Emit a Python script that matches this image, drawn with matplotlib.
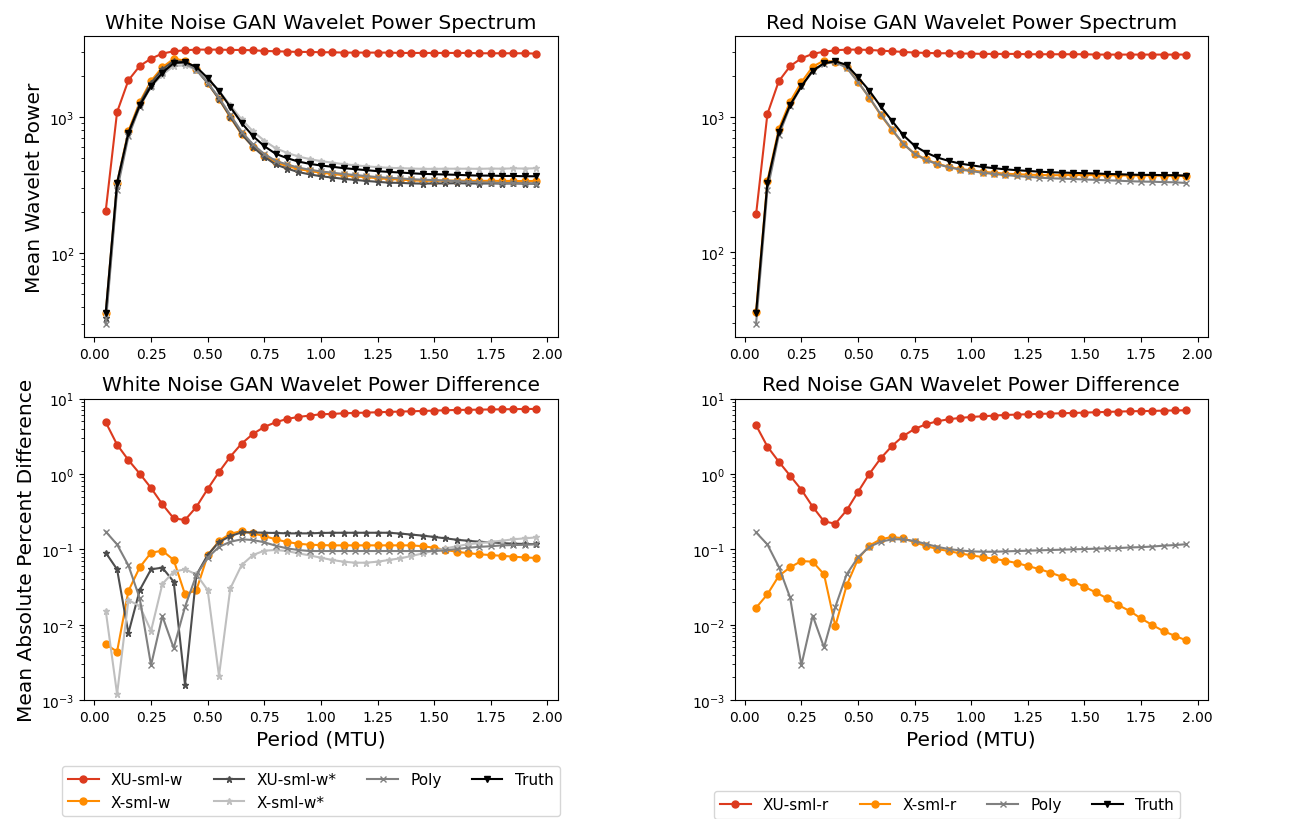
import matplotlib
matplotlib.use("Agg")
import matplotlib.pyplot as plt

period = [0.05, 0.10, 0.15, 0.20, 0.25, 0.30, 0.35, 0.40, 0.45, 0.50,
          0.55, 0.60, 0.65, 0.70, 0.75, 0.80, 0.85, 0.90, 0.95, 1.00,
          1.05, 1.10, 1.15, 1.20, 1.25, 1.30, 1.35, 1.40, 1.45, 1.50,
          1.55, 1.60, 1.65, 1.70, 1.75, 1.80, 1.85, 1.90, 1.95]

# mean wavelet power, white noise run
w_xu = [205, 1088, 1864, 2375, 2692, 2931, 3048, 3100, 3135, 3135,
        3135, 3117, 3117, 3100, 3064, 3048, 3031, 3014, 3014, 2997,
        2997, 2980, 2980, 2980, 2980, 2980, 2963, 2963, 2963, 2963,
        2963, 2963, 2963, 2946, 2946, 2946, 2946, 2946, 2930]
w_x = [36.3, 329, 788, 1290, 1844, 2325, 2680, 2605, 2270, 1777,
       1355, 995, 746, 607, 519, 464, 437, 415, 401, 390,
       382, 373, 367, 361, 355, 350, 347, 342, 340, 340,
       341, 341, 340, 339, 340, 339, 339, 338, 339]
w_xu_s = [33.2, 310, 761, 1254, 1784, 2242, 2592, 2537, 2230, 1775,
          1362, 1008, 752, 603, 510, 448, 418, 394, 379, 367,
          359, 351, 345, 339, 334, 329, 328, 325, 324, 325,
          325, 326, 325, 324, 325, 324, 325, 324, 324]
w_x_s = [36.0, 328, 751, 1197, 1678, 2047, 2373, 2403, 2228, 1882,
         1559, 1222, 960, 786, 670, 590, 546, 513, 491, 474,
         462, 450, 442, 434, 428, 423, 421, 418, 416, 416,
         417, 417, 417, 416, 418, 417, 419, 418, 420]
w_poly = [30.2, 290, 720, 1192, 1687, 2093, 2488, 2498, 2230, 1787,
          1388, 1037, 781, 629, 535, 477, 448, 425, 410, 398,
          390, 381, 375, 368, 362, 357, 354, 349, 346, 344,
          341, 338, 334, 331, 330, 327, 327, 325, 324]
w_truth = [36.5, 328, 767, 1219, 1692, 2121, 2500, 2541, 2337, 1938,
           1556, 1186, 904, 725, 611, 537, 499, 471, 453, 440,
           431, 421, 414, 407, 400, 395, 391, 386, 382, 380,
           378, 376, 373, 371, 371, 369, 369, 367, 367]

# mean wavelet power, red noise run
r_xu = [190, 1047, 1827, 2361, 2704, 2912, 3027, 3097, 3133, 3133,
        3115, 3080, 3045, 3012, 2978, 2962, 2945, 2945, 2928, 2928,
        2912, 2912, 2912, 2912, 2895, 2895, 2895, 2895, 2895, 2895,
        2879, 2879, 2879, 2879, 2879, 2879, 2879, 2879, 2879]
r_x = [36.2, 334, 808, 1291, 1795, 2344, 2601, 2545, 2335, 1810,
       1384, 1031, 798, 629, 534, 484, 450, 427, 411, 402,
       392, 386, 380, 376, 374, 371, 370, 370, 371, 371,
       371, 370, 369, 368, 368, 368, 367, 367, 365]
r_poly = [29.6, 288, 728, 1192, 1673, 2164, 2472, 2526, 2302, 1802,
          1391, 1043, 807, 632, 531, 480, 446, 424, 407, 397,
          386, 378, 371, 365, 360, 355, 351, 349, 347, 344,
          342, 339, 337, 334, 332, 331, 329, 328, 324]
r_truth = [35.6, 326, 774, 1220, 1678, 2193, 2484, 2570, 2415, 1955,
           1559, 1193, 934, 731, 610, 544, 500, 472, 451, 438,
           426, 417, 409, 403, 398, 393, 389, 387, 385, 383,
           381, 378, 376, 374, 372, 372, 370, 370, 367]

# mean absolute percent difference from truth, white noise run
wd_xu = [4.85, 2.45, 1.53, 1.01, 0.652, 0.396, 0.258, 0.245, 0.365, 0.632,
         1.06, 1.70, 2.53, 3.40, 4.21, 4.85, 5.37, 5.71, 5.95, 6.20,
         6.26, 6.39, 6.45, 6.52, 6.59, 6.66, 6.73, 6.79, 6.86, 6.93,
         7.00, 7.07, 7.10, 7.14, 7.18, 7.21, 7.25, 7.29, 7.29]
wd_x = [0.0055, 0.0044, 0.028, 0.0577, 0.0903, 0.096, 0.0722, 0.0253, 0.0286, 0.0832,
        0.129, 0.161, 0.175, 0.163, 0.150, 0.136, 0.125, 0.119, 0.115, 0.114,
        0.113, 0.113, 0.113, 0.113, 0.113, 0.113, 0.113, 0.113, 0.110, 0.105,
        0.098, 0.093, 0.089, 0.086, 0.084, 0.082, 0.080, 0.078, 0.077]
wd_xu_s = [0.0903, 0.0543, 0.0077, 0.0288, 0.0543, 0.0572, 0.0372, 0.0016, 0.0456, 0.0841,
           0.125, 0.150, 0.168, 0.168, 0.166, 0.165, 0.163, 0.163, 0.163, 0.165,
           0.166, 0.166, 0.166, 0.166, 0.166, 0.166, 0.162, 0.157, 0.152, 0.146,
           0.140, 0.134, 0.130, 0.126, 0.124, 0.121, 0.119, 0.118, 0.117]
wd_x_s = [0.0153, 0.0012, 0.0212, 0.0177, 0.0083, 0.0347, 0.0506, 0.0543, 0.0466, 0.0288,
          0.0021, 0.0303, 0.0619, 0.0841, 0.096, 0.098, 0.095, 0.0885, 0.0832, 0.0775,
          0.0722, 0.0686, 0.0665, 0.0665, 0.0686, 0.0722, 0.076, 0.0816, 0.0885, 0.096,
          0.103, 0.110, 0.117, 0.121, 0.126, 0.130, 0.136, 0.140, 0.144]
wd_poly = [0.172, 0.116, 0.0613, 0.0224, 0.0029, 0.013, 0.0049, 0.0173, 0.0456, 0.0775,
           0.108, 0.126, 0.136, 0.133, 0.124, 0.112, 0.103, 0.098, 0.095, 0.095,
           0.095, 0.095, 0.095, 0.095, 0.095, 0.095, 0.095, 0.095, 0.095, 0.095,
           0.097, 0.101, 0.105, 0.108, 0.110, 0.113, 0.114, 0.115, 0.117]

# mean absolute percent difference from truth, red noise run
rd_xu = [4.43, 2.31, 1.46, 0.951, 0.619, 0.368, 0.235, 0.219, 0.33, 0.577,
         1.0, 1.61, 2.35, 3.19, 3.96, 4.56, 5.0, 5.32, 5.54, 5.71,
         5.83, 5.95, 6.07, 6.13, 6.20, 6.26, 6.33, 6.39, 6.45, 6.52,
         6.59, 6.66, 6.73, 6.79, 6.83, 6.86, 6.93, 6.96, 7.0]
rd_x = [0.0168, 0.0253, 0.0443, 0.0577, 0.070, 0.0686, 0.0466, 0.0096, 0.0333, 0.0744,
        0.112, 0.136, 0.146, 0.140, 0.124, 0.111, 0.101, 0.095, 0.0885, 0.0832,
        0.079, 0.0751, 0.0707, 0.0659, 0.0601, 0.0548, 0.049, 0.0434, 0.0372, 0.0319,
        0.0268, 0.0224, 0.0182, 0.0152, 0.0121, 0.0099, 0.0082, 0.0071, 0.0062]
rd_poly = [0.168, 0.116, 0.0589, 0.0231, 0.0029, 0.0132, 0.005, 0.0173, 0.0466, 0.0783,
           0.108, 0.126, 0.136, 0.136, 0.129, 0.118, 0.108, 0.101, 0.097, 0.094,
           0.093, 0.093, 0.094, 0.095, 0.096, 0.097, 0.098, 0.099, 0.100, 0.101,
           0.102, 0.103, 0.104, 0.106, 0.107, 0.109, 0.112, 0.114, 0.117]

red = '#dc3a1e'
orange = '#ff8c00'
dark = '#4d4d4d'
mid = '#808080'
light = '#bfbfbf'

fig, axes = plt.subplots(2, 2, figsize=(12.96, 8.2), dpi=100)
plt.subplots_adjust(left=0.065, right=0.932, top=0.955, bottom=0.145,
                    wspace=0.374, hspace=0.203)
(ax1, ax2), (ax3, ax4) = axes

lw = 1.5
ms = 5
fs = 14.5

# white noise spectrum
ax1.plot(period, w_xu, color=red, marker='o', ms=ms, lw=lw, label='XU-sml-w')
ax1.plot(period, w_x, color=orange, marker='o', ms=ms, lw=lw, label='X-sml-w')
ax1.plot(period, w_xu_s, color=dark, marker='*', ms=ms, lw=lw, label='XU-sml-w*')
ax1.plot(period, w_x_s, color=light, marker='*', ms=ms, lw=lw, label='X-sml-w*')
ax1.plot(period, w_poly, color=mid, marker='x', ms=ms, lw=lw, label='Poly')
ax1.plot(period, w_truth, color='k', marker='v', ms=ms, lw=lw, label='Truth')
ax1.set_yscale('log')
ax1.set_title('White Noise GAN Wavelet Power Spectrum', fontsize=fs)
ax1.set_ylabel('Mean Wavelet Power', fontsize=fs)

# red noise spectrum
ax2.plot(period, r_xu, color=red, marker='o', ms=ms, lw=lw, label='XU-sml-r')
ax2.plot(period, r_x, color=orange, marker='o', ms=ms, lw=lw, label='X-sml-r')
ax2.plot(period, r_poly, color=mid, marker='x', ms=ms, lw=lw, label='Poly')
ax2.plot(period, r_truth, color='k', marker='v', ms=ms, lw=lw, label='Truth')
ax2.set_yscale('log')
ax2.set_title('Red Noise GAN Wavelet Power Spectrum', fontsize=fs)

# white noise differences
ax3.plot(period, wd_xu, color=red, marker='o', ms=ms, lw=lw)
ax3.plot(period, wd_x, color=orange, marker='o', ms=ms, lw=lw)
ax3.plot(period, wd_xu_s, color=dark, marker='*', ms=ms, lw=lw)
ax3.plot(period, wd_x_s, color=light, marker='*', ms=ms, lw=lw)
ax3.plot(period, wd_poly, color=mid, marker='x', ms=ms, lw=lw)
ax3.set_yscale('log')
ax3.set_ylim(1e-3, 1e1)
ax3.set_title('White Noise GAN Wavelet Power Difference', fontsize=fs)
ax3.set_ylabel('Mean Absolute Percent Difference', fontsize=fs)
ax3.set_xlabel('Period (MTU)', fontsize=fs)

# red noise differences
ax4.plot(period, rd_xu, color=red, marker='o', ms=ms, lw=lw)
ax4.plot(period, rd_x, color=orange, marker='o', ms=ms, lw=lw)
ax4.plot(period, rd_poly, color=mid, marker='x', ms=ms, lw=lw)
ax4.set_yscale('log')
ax4.set_ylim(1e-3, 1e1)
ax4.set_title('Red Noise GAN Wavelet Power Difference', fontsize=fs)
ax4.set_xlabel('Period (MTU)', fontsize=fs)

for ax in axes.flat:
    ax.set_xticks([0.0, 0.25, 0.5, 0.75, 1.0, 1.25, 1.5, 1.75, 2.0])
    ax.set_xticklabels(['0.00', '0.25', '0.50', '0.75', '1.00',
                        '1.25', '1.50', '1.75', '2.00'])
    ax.tick_params(labelsize=10)

h, l = ax1.get_legend_handles_labels()
fig.legend(h, l, ncol=4, fontsize=11, loc='upper left',
           bbox_to_anchor=(0.042, 0.074))
h, l = ax2.get_legend_handles_labels()
fig.legend(h, l, ncol=4, fontsize=11, loc='upper left',
           bbox_to_anchor=(0.545, 0.043))

fig.savefig('out.png', dpi=100)
